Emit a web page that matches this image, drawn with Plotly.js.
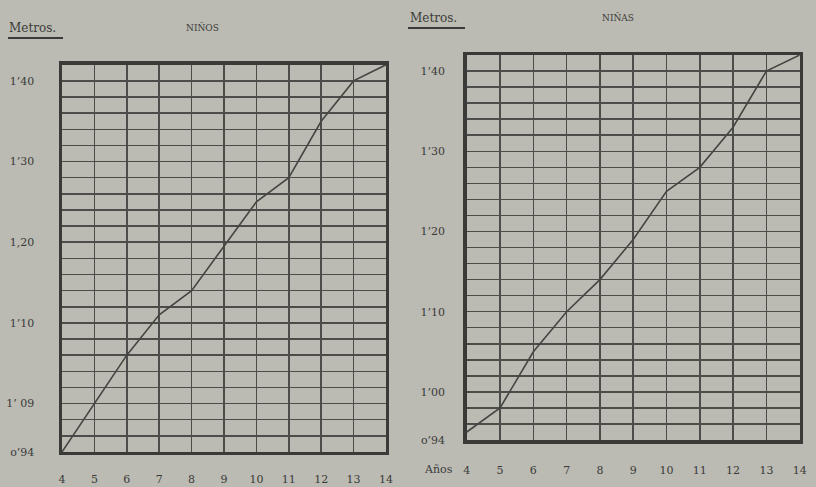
<!DOCTYPE html>
<html>
<head>
<meta charset="utf-8">
<script src="https://cdn.plot.ly/plotly-3.0.1.min.js"></script>
<style>html,body{margin:0;padding:0;background:#bbbbb3;}</style>
</head>
<body>
<div id="chart" style="width:816px;height:487px;"></div>
<script>
// Ages (años)
const ages = [4, 5, 6, 7, 8, 9, 10, 11, 12, 13, 14];
// Height in metres, boys (NIÑOS)
const ninos = [0.94, 1.00, 1.06, 1.11, 1.14, 1.195, 1.25, 1.28, 1.35, 1.40, 1.42];
// Height in metres, girls (NIÑAS)
const ninas = [0.95, 0.98, 1.05, 1.10, 1.14, 1.19, 1.25, 1.28, 1.33, 1.40, 1.42];
// Y tick values and printed labels
const yTickVals = [0.94, 1.00, 1.10, 1.20, 1.30, 1.40];
const yTickTextNinos = ["o’94", "1’ 09", "1’10", "1,20", "1’30", "1’40"];
const yTickTextNinas = ["o’94", "1’00", "1’10", "1’20", "1’30", "1’40"];
const xTickVals = ages;
const xTickText = ages.map(String);

const ink = '#3a3a38';
const gridCol = '#4c4c4a';
const fam = 'DejaVu Serif, Liberation Serif, serif';
const tickFont = {family: fam, size: 11, color: ink};

function xAxis(domain, anchor, standoff) {
  return {
    domain: domain, anchor: anchor, range: [4, 14],
    tickvals: xTickVals, ticktext: xTickText,
    showgrid: true, gridcolor: gridCol, gridwidth: 1.5,
    showline: true, mirror: true, linecolor: ink, linewidth: 3.5,
    ticks: 'outside', ticklen: standoff, tickcolor: 'rgba(0,0,0,0)',
    zeroline: false, tickfont: tickFont, fixedrange: true
  };
}
function yAxis(domain, anchor, text, standoff) {
  return {
    domain: domain, anchor: anchor, range: [0.94, 1.42],
    tickvals: yTickVals, ticktext: text,
    showgrid: true, gridcolor: gridCol, gridwidth: 1.5,
    minor: {tick0: 0.94, dtick: 0.02, showgrid: true, gridcolor: gridCol, gridwidth: 1.5, ticks: ''},
    showline: true, mirror: true, linecolor: ink, linewidth: 3.5,
    ticks: 'outside', ticklen: standoff, tickcolor: 'rgba(0,0,0,0)',
    zeroline: false, tickfont: tickFont, fixedrange: true
  };
}

const traces = [
  {x: ages, y: ninos, xaxis: 'x', yaxis: 'y', mode: 'lines',
   line: {color: '#454543', width: 1.6}, hoverinfo: 'skip'},
  {x: ages, y: ninas, xaxis: 'x2', yaxis: 'y2', mode: 'lines',
   line: {color: '#454543', width: 1.6}, hoverinfo: 'skip'}
];

const layout = {
  width: 816, height: 487,
  margin: {l: 0, r: 0, t: 0, b: 0},
  paper_bgcolor: '#bbbbb3', plot_bgcolor: '#bbbbb3',
  showlegend: false,
  font: {family: fam, size: 11, color: ink},
  xaxis: xAxis([0.076, 0.473], 'y', 14),
  yaxis: yAxis([0.072, 0.867], 'x', yTickTextNinos, 22),
  xaxis2: xAxis([0.572, 0.980], 'y2', 17),
  yaxis2: yAxis([0.0965, 0.887], 'x2', yTickTextNinas, 16),
  annotations: [
    {text: 'Metros.', xref: 'paper', yref: 'paper', x: 0.009, y: 1 - 28/487, xanchor: 'left', yanchor: 'middle', showarrow: false, font: {family: fam, size: 12, color: ink}},
    {text: 'NIÑOS', xref: 'paper', yref: 'paper', x: 0.248, y: 1 - 28/487, xanchor: 'center', yanchor: 'middle', showarrow: false, font: {family: fam, size: 9, color: ink}},
    {text: 'Metros.', xref: 'paper', yref: 'paper', x: 0.5, y: 1 - 18/487, xanchor: 'left', yanchor: 'middle', showarrow: false, font: {family: fam, size: 12, color: ink}},
    {text: 'NIÑAS', xref: 'paper', yref: 'paper', x: 0.757, y: 1 - 18/487, xanchor: 'center', yanchor: 'middle', showarrow: false, font: {family: fam, size: 9, color: ink}},
    {text: 'Años', xref: 'paper', yref: 'paper', x: 0.537, y: 1 - 469/487, xanchor: 'center', yanchor: 'middle', showarrow: false, font: {family: fam, size: 11, color: ink}}
  ],
  shapes: [
    {type: 'line', xref: 'paper', yref: 'paper', x0: 8/816, x1: 63/816, y0: 1 - 38/487, y1: 1 - 38/487, line: {color: ink, width: 2}},
    {type: 'line', xref: 'paper', yref: 'paper', x0: 408/816, x1: 465/816, y0: 1 - 28/487, y1: 1 - 28/487, line: {color: ink, width: 2}}
  ]
};

Plotly.newPlot('chart', traces, layout, {staticPlot: true, displayModeBar: false});
</script>
</body>
</html>
